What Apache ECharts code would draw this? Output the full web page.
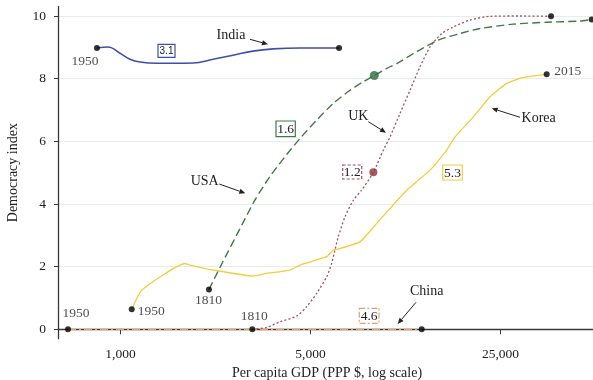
<!DOCTYPE html>
<html><head><meta charset="utf-8">
<script src="https://cdn.jsdelivr.net/npm/echarts@6/dist/echarts.min.js"></script>
<style>html,body{margin:0;padding:0;background:#fff}#c{width:593px;height:380px}</style>
</head><body><div id="c"></div>
<script>
// ---- data (GDP per capita, democracy index) ----
const xTicks = [1000, 5000, 25000];
const yTicks = [0, 2, 4, 6, 8, 10];
const india = [[819,8.98],[900,9.01],[996,8.81],[1084,8.62],[1180,8.53],[1362,8.49],[1849,8.50],[2189,8.62],[2594,8.75],[3073,8.88],[3640,8.95],[4575,8.98],[6370,8.98]];
const usa = [[2116,1.27],[2388,2.18],[2831,3.42],[3126,4.13],[3548,4.88],[4089,5.58],[4576,6.09],[5272,6.68],[6067,7.21],[6990,7.63],[7820,7.90],[8590,8.10],[9806,8.38],[10380,8.48],[12300,8.86],[14760,9.23],[17740,9.44],[21030,9.60],[27880,9.74],[36980,9.80],[49050,9.84],[54150,9.89]];
const uk = [[3055,0.0],[3451,0.06],[3863,0.24],[4449,0.42],[4840,0.72],[5272,1.15],[5736,1.68],[5984,2.11],[6152,2.53],[6326,2.95],[6698,3.59],[7188,4.12],[7711,4.44],[8517,5.01],[9268,5.72],[9806,6.14],[10670,6.89],[11620,7.63],[12650,8.38],[13770,9.01],[15210,9.44],[16770,9.65],[19320,9.87],[22890,9.99],[29510,10.0],[38370,9.99]];
const korea = [[1100,0.64],[1197,1.25],[1727,2.10],[1802,2.05],[2195,1.89],[3080,1.70],[3480,1.79],[4204,1.89],[4571,2.05],[5736,2.32],[6067,2.53],[6250,2.55],[7605,2.79],[8762,3.38],[9806,3.86],[11300,4.44],[13770,5.08],[15850,5.72],[17010,6.14],[19860,6.78],[22890,7.42],[26360,7.85],[30340,8.04],[36980,8.14]];
const china = [[641,0],[12830,0]];
const usaMark = [8590, 8.10];
const ukMark = [8517, 5.01];
const startYears = {india:'1950', usa:'1810', uk:'1810', korea:'1950', china:'1950'};
const endYears = {korea:'2015'};

const FONT = 'Liberation Serif';
const C = {india:'#3e50a6', usa:'#3d7a48', uk:'#a34f5e', korea:'#f4cc3c', china:'#e3a472'};

function line(name, data, color, type, width, smooth){
  return {type:'line', name, data, showSymbol:false, smooth:smooth,
    lineStyle:{color, width, type}, silent:true, z:2};
}
function lbl(text, dx, dy){
  return {show:true, formatter:text, position:'inside', offset:[dx,dy], color:'#222', fontFamily:FONT, fontSize:13.5};
}
const ends = [
  {value:india[0], label:lbl(startYears.india,-12,13.3)},
  {value:india[india.length-1]},
  {value:usa[0], label:lbl(startYears.usa,-0.5,11)},
  {value:usa[usa.length-1]},
  {value:uk[0], label:lbl(startYears.uk,2,-13)},
  {value:uk[uk.length-1]},
  {value:korea[0], label:lbl(startYears.korea,19.5,2.5)},
  {value:korea[korea.length-1], label:lbl(endYears.korea,21,-3)},
  {value:china[0], label:lbl(startYears.china,8,-16)},
  {value:china[china.length-1]}
];

function arrow(x1,y1,x2,y2){
  const a=Math.atan2(y2-y1,x2-x1), L=6, W=2.6;
  const bx=x2-L*Math.cos(a), by=y2-L*Math.sin(a);
  return [
    {type:'line', z:10, shape:{x1,y1,x2:bx,y2:by}, style:{stroke:'#222',lineWidth:1}},
    {type:'polygon', z:10, shape:{points:[[x2,y2],[bx+W*Math.sin(a),by-W*Math.cos(a)],[bx-W*Math.sin(a),by+W*Math.cos(a)]]}, style:{fill:'#222'}}
  ];
}
function txt(t,x,y,size,fam){
  return {type:'text', z:11, x, y, style:{text:t, x:0, y:0, align:'center', verticalAlign:'middle', fill:'#222', font:size+'px "'+(fam||FONT)+'"'}};
}
function box(t,x,y,w,h,color,dash,fam,size){
  return [
    {type:'rect', z:10, shape:{x,y,width:w,height:h}, style:{fill:'#fff', stroke:color, lineWidth:1.2, lineDash:dash||null}},
    txt(t, x+w/2, y+h/2+0.5, size||13.5, fam)
  ];
}

const graphic = [].concat(
  txt('India',231,35.7,14), arrow(250,39.3,268,44.3),
  txt('USA',204.7,181.7,14), arrow(219.3,184,245.3,193.3),
  txt('UK',358.3,116.7,14), arrow(368.3,121.7,386,132.7),
  txt('Korea',538.7,118.7,14), arrow(520,117.3,491.7,108.3),
  txt('China',426.7,291.7,14), arrow(416,302.3,397.7,324),
  box('3.1',158,44.3,17,13,C.india,null,'Liberation Sans',10),
  box('1.6',276,121,19.3,15.7,C.usa),
  box('1.2',342.7,165,19,14,C.uk,[3,2]),
  box('5.3',442.7,165,19.6,15,C.korea),
  box('4.6',359.3,308.3,19.7,15,C.china,[6,2,2,2])
);

const chart = echarts.init(document.getElementById('c'), null, {renderer:'canvas'});
chart.setOption({
  animation:false,
  backgroundColor:'#fff',
  grid:{left:58, top:6.6, width:538, height:332.1, containLabel:false, outerBoundsMode:'none'},
  xAxis:{type:'log', min:589, max:56160,
    name:'Per capita GDP (PPP $, log scale)', nameLocation:'middle', nameGap:27,
    nameTextStyle:{fontFamily:FONT, fontSize:14, color:'#222'},
    axisLine:{lineStyle:{color:'#3a3a3a', width:1.3}},
    axisTick:{show:true, length:5, customValues:xTicks, lineStyle:{color:'#3a3a3a'}},
    axisLabel:{customValues:xTicks, margin:9, fontFamily:FONT, fontSize:13.5, color:'#222',
      formatter:v=>Math.round(v).toLocaleString('en-US')},
    splitLine:{show:false}, minorTick:{show:false}, minorSplitLine:{show:false}
  },
  yAxis:{type:'value', min:-0.3, max:10.3,
    name:'Democracy index', nameLocation:'middle', nameGap:38, nameRotate:90,
    nameTextStyle:{fontFamily:FONT, fontSize:14, color:'#222'},
    axisLine:{show:true, lineStyle:{color:'#3a3a3a', width:1.3}},
    axisTick:{show:true, length:4, customValues:yTicks, lineStyle:{color:'#3a3a3a'}},
    axisLabel:{customValues:yTicks, margin:12, fontFamily:FONT, fontSize:13.5, color:'#222'},
    splitLine:{show:true, lineStyle:{color:'#e5edf1', width:1}}
  },
  series:[
    line('China', china, C.china, [8,3,2,3], 1.4, 0),
    line('India', india, C.india, 'solid', 1.6, 0.4),
    line('USA', usa, C.usa, [8,4], 1.4, 0.25),
    line('UK', uk, C.uk, [2,2.2], 1.3, 0.25),
    line('Korea', korea, C.korea, 'solid', 1.3, 0.15),
    {type:'scatter', data:ends, symbolSize:6, itemStyle:{color:'#000'}, silent:true, z:5},
    {type:'scatter', data:[usaMark], symbolSize:9, itemStyle:{color:'#2e6b3a'}, silent:true, z:6},
    {type:'scatter', data:[ukMark], symbolSize:8, itemStyle:{color:'#8c3535'}, silent:true, z:6}
  ],
  graphic
});
</script></body></html>
